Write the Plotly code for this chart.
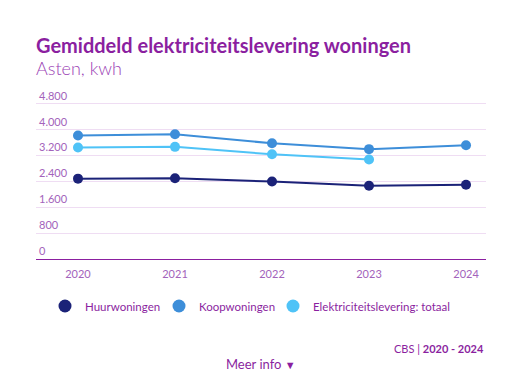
import plotly.graph_objects as go

years = [2020, 2021, 2022, 2023, 2024]
huur = [2480, 2490, 2390, 2260, 2290]
koop = [3810, 3850, 3570, 3390, 3510]
totaal = [3440, 3460, 3230, 3070, None]
series_names = ["Huurwoningen", "Koopwoningen", "Elektriciteitslevering: totaal"]
colors = ["#1B2278", "#3D8ED9", "#4FC3F7"]
ytick_vals = [0, 800, 1600, 2400, 3200, 4000, 4800]
ytick_text = ["0", "800", "1.600", "2.400", "3.200", "4.000", "4.800"]

FONT = "Lato"
PURPLE = "#8B1FA0"
LABEL = "#A363BB"

fig = go.Figure()
for name, vals, col in zip(series_names, [huur, koop, totaal], colors):
    fig.add_trace(go.Scatter(x=years, y=vals, mode="lines+markers", name=name,
                             line=dict(color=col, width=2), marker=dict(color=col, size=10),
                             showlegend=False, connectgaps=False))
legend_ids = ["legend", "legend2", "legend3"]
for name, col, lg in zip(series_names, colors, legend_ids):
    fig.add_trace(go.Scatter(x=[None], y=[None], mode="markers", name=name, legend=lg,
                             marker=dict(color=col, size=13), showlegend=True))

legend_x_px = [45, 159, 273]
legend_common = dict(orientation="h", xref="container", yref="container", xanchor="left",
                     y=1 - 306 / 373, yanchor="middle", bgcolor="rgba(0,0,0,0)",
                     font=dict(size=11.5, color=PURPLE, family=FONT))

fig.update_layout(
    width=522, height=373,
    margin=dict(l=36, r=36, t=83.5, b=114),
    paper_bgcolor="white", plot_bgcolor="white",
    font=dict(family=FONT, color=PURPLE),
    title=dict(text="<b>Gemiddeld elektriciteitslevering woningen</b>",
               x=36/522, xanchor="left", y=1 - 46/373, yanchor="middle",
               font=dict(size=20, color=PURPLE, family=FONT)),
    xaxis=dict(range=[2019.567, 2024.206], tickvals=years, ticktext=[str(y) for y in years],
               showgrid=False, zeroline=False, showline=True, linecolor=PURPLE, linewidth=1,
               tickfont=dict(size=11, color=LABEL), ticks="outside", ticklen=5,
               tickcolor="rgba(0,0,0,0)", fixedrange=True, automargin=False),
    yaxis=dict(range=[0, 5400], tickvals=ytick_vals, ticktext=ytick_text,
               ticklabelposition="inside top", showgrid=True, gridcolor="#EFDDF3", gridwidth=1,
               zeroline=False, showline=False, tickfont=dict(size=11, color=LABEL), ticks="",
               automargin=False, fixedrange=True),
    legend=dict(x=legend_x_px[0] / 522, **legend_common),
    legend2=dict(x=legend_x_px[1] / 522, **legend_common),
    legend3=dict(x=legend_x_px[2] / 522, **legend_common),
    hovermode=False,
)
ph = 373 - 83.5 - 114
fig.add_annotation(text="<span style='font-weight:300'>Asten, kwh</span>",
                   xref="paper", yref="paper", x=0, xanchor="left", y=(259 - 67) / ph, yanchor="middle",
                   showarrow=False, xshift=-2, font=dict(size=18, color="#9B3FB5", family=FONT))
fig.add_annotation(text="CBS <span style='color:#8B1FA0'>|</span> <b>2020 - 2024</b>",
                   xref="paper", yref="paper", x=1, xanchor="right", y=(259 - 349) / ph, yanchor="middle",
                   showarrow=False, font=dict(size=11, color=PURPLE, family=FONT))
fig.add_annotation(text="Meer info <span style='font-size:11px'>▼</span>",
                   xref="paper", yref="paper", x=0.5, xanchor="center", y=(259 - 364) / ph, yanchor="middle",
                   showarrow=False, font=dict(size=13, color=PURPLE, family=FONT))
fig.write_html("out.html", config={"displayModeBar": False},
               post_script="document.body.style.margin='0';")
